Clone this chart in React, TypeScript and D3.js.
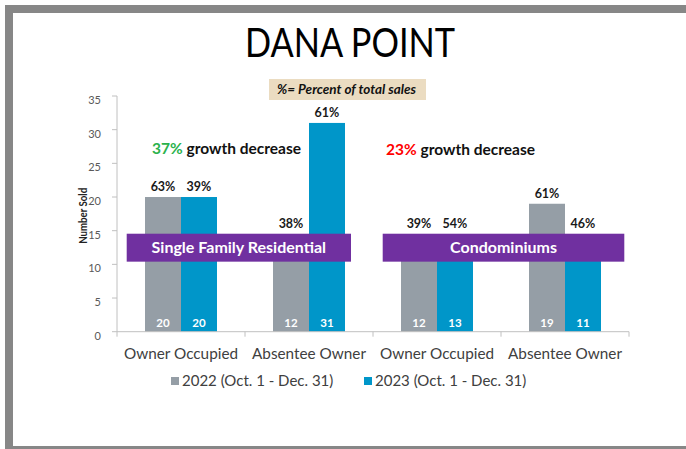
import React from "react";
import * as d3 from "d3";

const categories = ["Owner Occupied", "Absentee Owner", "Owner Occupied", "Absentee Owner"];
const seriesNames = ["2022 (Oct. 1 - Dec. 31)", "2023 (Oct. 1 - Dec. 31)"];
const values2022 = [20, 12, 12, 19];
const values2023 = [20, 31, 13, 11];
const pct2022 = ["63%", "38%", "39%", "61%"];
const pct2023 = ["39%", "61%", "54%", "46%"];
const yTicks = [0, 5, 10, 15, 20, 25, 30, 35];
const groups = [
  { label: "Single Family Residential", from: 0, to: 1, growth: "37%", growthColor: "#2BB24C" },
  { label: "Condominiums", from: 2, to: 3, growth: "23%", growthColor: "#FF0000" },
];

const W = 686, H = 449;
const FONT = "Lato, 'Open Sans', sans-serif";
const colors = ["#959EA6", "#0096C9"];

export default function App() {
  const y = d3.scaleLinear().domain([0, 35]).range([331.7, 96]);
  const x0 = d3.scaleBand<number>().domain(d3.range(categories.length)).range([117, 629]).padding(0);
  const x1 = d3.scaleBand<number>().domain([0, 1]).range([0, x0.bandwidth()]).paddingInner(0).paddingOuter(0.778);
  const series = [values2022, values2023];
  const pcts = [pct2022, pct2023];
  const boxTopV = 14.55, boxBotV = 10.4;
  const boxTop = y(boxTopV), boxBot = y(boxBotV);

  return (
    <svg width={W} height={H} style={{ position: "absolute", left: 0, top: 0 }} fontFamily={FONT}>
      <rect x={0} y={0} width={W} height={H} fill="#fff" />
      <rect x={5} y={5} width={W} height={H} fill="#878787" />
      <rect x={13} y={13} width={W} height={433} fill="#fff" />

      <text x={245} y={57} fontSize={41} fill="#000" textLength={210} lengthAdjust="spacingAndGlyphs">DANA POINT</text>

      <rect x={269} y={79} width={157} height={21} fill="#EBDCC1" />
      <text x={277} y={94} fontSize={12.5} fontWeight="bold" fontStyle="italic" fill="#111" textLength={139} lengthAdjust="spacingAndGlyphs">%= Percent of total sales</text>

      {/* y axis */}
      <line x1={117} x2={117} y1={y(35)} y2={y(0)} stroke="#C0C0C0" />
      {yTicks.map((t) => (
        <g key={t}>
          <line x1={112} x2={117} y1={y(t)} y2={y(t)} stroke="#C0C0C0" />
          <text x={101} y={y(t) + 4} dy="0.35em" textAnchor="end" fontSize={11} fill="#595959">{t}</text>
        </g>
      ))}
      <text transform={`translate(87,${y(17.2)}) rotate(-90)`} textAnchor="middle" fontSize={10.5} fontWeight="bold" fill="#222" textLength={56} lengthAdjust="spacingAndGlyphs">Number Sold</text>

      {/* bars */}
      {categories.map((c, i) => (
        <g key={i} transform={`translate(${x0(i)},0)`}>
          {series.map((s, k) => (
            <rect key={k} x={x1(k)} y={y(s[i])} width={x1.bandwidth()} height={y(0) - y(s[i])} fill={colors[k]} />
          ))}
        </g>
      ))}

      {/* x axis */}
      <line x1={117} x2={629} y1={y(0)} y2={y(0)} stroke="#C0C0C0" />
      {d3.range(categories.length + 1).map((i) => {
        const xx = 117 + i * x0.bandwidth();
        return <line key={i} x1={xx} x2={xx} y1={y(0)} y2={y(0) + 5} stroke="#C0C0C0" />;
      })}
      {categories.map((c, i) => (
        <text key={i} x={(x0(i) as number) + x0.bandwidth() / 2} y={359} textAnchor="middle" fontSize={15.3} fill="#404040">{c}</text>
      ))}

      {/* group boxes */}
      {groups.map((g, gi) => {
        const xs = (x0(g.from) as number) + 9.7;
        const xe = (x0(g.to) as number) + x0.bandwidth() - (gi === 0 ? 22 : 4.7);
        return (
          <g key={gi}>
            <rect x={xs} y={boxTop} width={xe - xs} height={boxBot - boxTop} fill="#7030A0" />
            <text x={(xs + xe) / 2} y={(boxTop + boxBot) / 2} dy="0.36em" textAnchor="middle" fontSize={16} fontWeight="bold" fill="#fff">{g.label}</text>
          </g>
        );
      })}

      {/* growth annotations */}
      <text x={152} y={154} fontSize={15.5} fontWeight="bold" fill="#111">
        <tspan fill={groups[0].growthColor}>{groups[0].growth}</tspan> growth decrease
      </text>
      <text x={386} y={155} fontSize={15.5} fontWeight="bold" fill="#111">
        <tspan fill={groups[1].growthColor}>{groups[1].growth}</tspan> growth decrease
      </text>

      {/* value + pct labels */}
      {categories.map((c, i) => (
        <g key={i} transform={`translate(${x0(i)},0)`}>
          {series.map((s, k) => {
            const cx = (x1(k) as number) + x1.bandwidth() / 2;
            const top = y(s[i]);
            const py = top < boxTop - 16 ? top - 10 : boxTop - 10;
            return (
              <g key={k}>
                <text x={cx} y={323} dy="0.35em" textAnchor="middle" fontSize={11.5} fontWeight="bold" fill="#fff">{s[i]}</text>
                <text x={cx} y={py} dy="0.35em" textAnchor="middle" fontSize={12.5} fontWeight="bold" fill="#1a1a1a">{pcts[k][i]}</text>
              </g>
            );
          })}
        </g>
      ))}

      {/* legend */}
      {seriesNames.map((n, k) => {
        const lx = k === 0 ? 171 : 364;
        return (
          <g key={k}>
            <rect x={lx} y={377} width={8} height={8} fill={colors[k]} />
            <text x={lx + 11} y={381} dy="0.36em" fontSize={15} fill="#404040">{n}</text>
          </g>
        );
      })}
    </svg>
  );
}
